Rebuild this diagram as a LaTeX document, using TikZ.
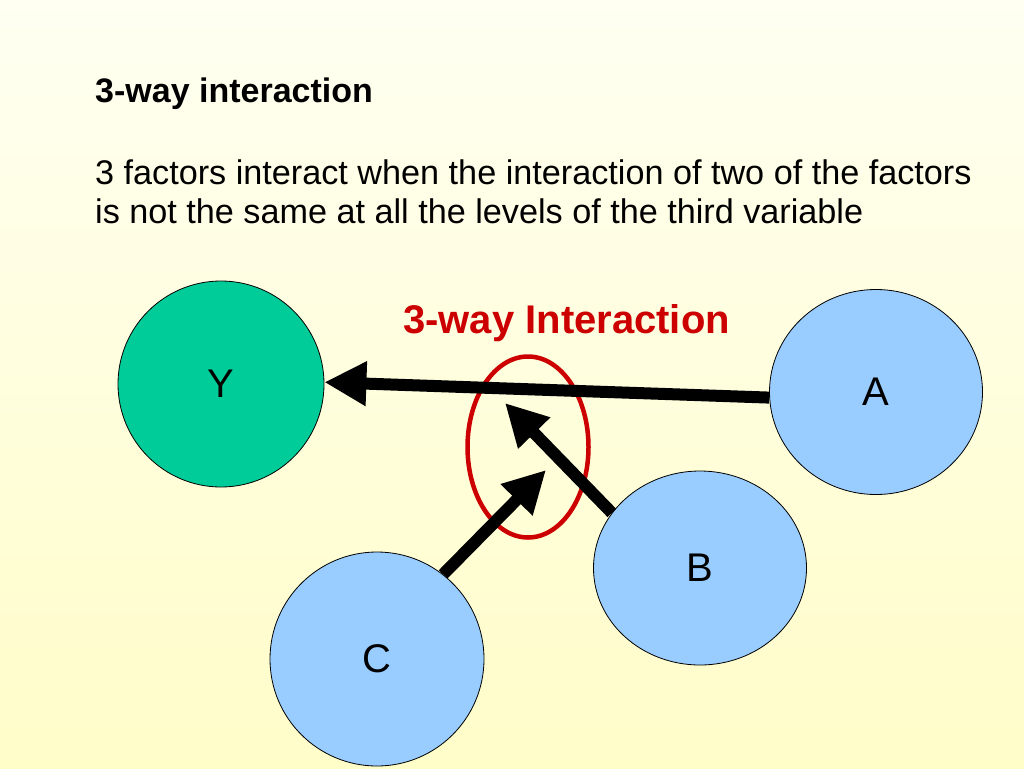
\documentclass[tikz,border=0pt]{standalone}
\usepackage{fontspec}
\setmainfont{Liberation Sans}
\usetikzlibrary{shapes.geometric,arrows.meta}
\definecolor{ygreen}{HTML}{00CC99}
\definecolor{nblue}{HTML}{99CCFF}
\definecolor{ired}{HTML}{CC0000}
\definecolor{bgtop}{HTML}{FFFFF2}
\definecolor{bgbot}{HTML}{FFFDC8}
\tikzset{
  factor/.style={ellipse, draw=black, line width=0.8pt, inner sep=0pt,
    font=\fontsize{40}{40}\selectfont},
  bigarrow/.style={line width=12pt, -{Triangle[length=42pt,width=42pt]}},
  body/.style={anchor=base west, inner sep=0pt, font=\fontsize{34.2}{40}\selectfont}
}
\begin{document}
\begin{tikzpicture}[x=1pt,y=-1pt]
\shade[top color=bgtop, bottom color=bgbot] (0,0) rectangle (1024,768);
\useasboundingbox (0,0) rectangle (1024,768);
% text
\node[body, font=\fontsize{34}{40}\bfseries\selectfont] (title) at (95,102) {3-way interaction};
\node[body] (l1) at (95,184) {3 factors interact when the interaction of two of the factors};
\node[body] (l2) at (95,223) {is not the same at all the levels of the third variable};
\node[anchor=base west, inner sep=0pt, text=ired, font=\fontsize{40}{40}\bfseries\selectfont] (lab) at (403,333) {3-way Interaction};
% factors
\node[factor, fill=ygreen, minimum width=206pt, minimum height=206pt] (Y) at (221,384) {Y};
\node[factor, fill=nblue, minimum width=213pt, minimum height=205pt] (A) at (876,392) {A};
\node[factor, fill=nblue, minimum width=213pt, minimum height=194pt] (B) at (700,568) {B};
\node[factor, fill=nblue, minimum width=214pt, minimum height=214pt] (C) at (377,659) {C};
% interaction ellipse
\node[ellipse, draw=ired, line width=4.5pt, minimum width=121pt, minimum height=181pt] (E) at (528,447) {};
\coordinate (tipB) at (505,403);
\coordinate (tipC) at (546,470);
% arrows
\draw[bigarrow] (A.183) -- (Y.1);
\draw[bigarrow] (B.148) -- (tipB);
\draw[bigarrow] (C.52) -- (tipC);
\end{tikzpicture}
\end{document}
